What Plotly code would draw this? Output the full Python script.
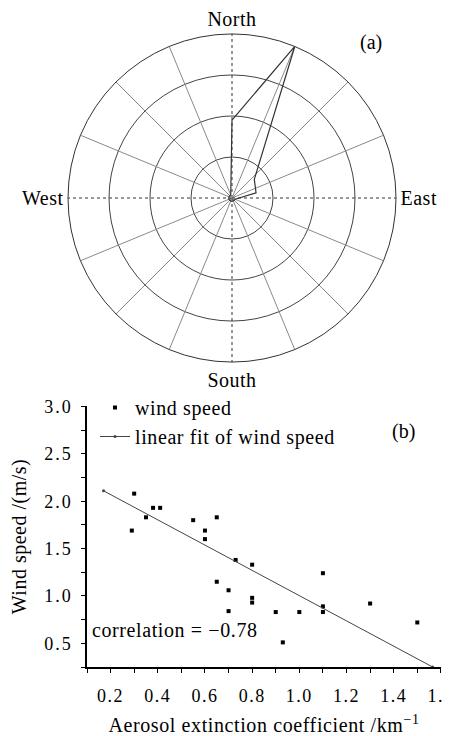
import plotly.graph_objects as go

# ---------------- data ----------------
# (a) wind direction rose: direction (deg from North, clockwise) and radius
wind_dir = [0, 22.5, 50, 78, 112.5, 135, 157.5, 180, 202.5, 225, 247.5, 270, 292.5, 315, 337.5, 0]
wind_r = [1.9, 4.0, 0.71, 0.6, 0.08, 0.08, 0.08, 0.08, 0.08, 0.08, 0.08, 0.08, 0.08, 0.08, 0.08, 1.9]
compass_labels = ["North", "East", "South", "West"]
compass_vals = [0, 90, 180, 270]

# (b) wind speed vs aerosol extinction coefficient
aec = [0.30, 0.29, 0.35, 0.38, 0.41, 0.55, 0.60, 0.60, 0.65, 0.65, 0.70, 0.70,
       0.73, 0.80, 0.80, 0.80, 0.90, 0.93, 1.00, 1.10, 1.10, 1.10, 1.30, 1.50]
ws = [2.08, 1.69, 1.83, 1.93, 1.93, 1.80, 1.69, 1.60, 1.83, 1.15, 1.06, 0.84,
      1.38, 1.33, 0.98, 0.93, 0.83, 0.51, 0.83, 1.24, 0.89, 0.83, 0.92, 0.72]
fit_x = [0.17, 1.565]
fit_y = [2.11, 0.25]
x_ticks = [0.2, 0.4, 0.6, 0.8, 1.0, 1.2, 1.4, 1.6]
y_ticks = [0.5, 1.0, 1.5, 2.0, 2.5, 3.0]

# the page body adds an 8px margin, so the figure is drawn 8px in from the window edge
OFF = 8
W, H = 452 - OFF, 736 - OFF
FONT = "Liberation Serif, Times New Roman, serif"


def fx(X):
    return (X - OFF) / W


def fy(Y):
    return 1 - (Y - OFF) / H


def spaced(t, px):
    return f'<span style="letter-spacing:{px}px">{t}</span>'


fig = go.Figure()

# polar grid spokes (every 22.5 deg); cardinal ones dotted
spoke_angles = [i * 22.5 for i in range(16)]
for a in spoke_angles:
    cardinal = (a % 90 == 0)
    fig.add_trace(go.Scatterpolar(
        r=[0, 4], theta=[a, a], mode="lines", showlegend=False, hoverinfo="skip",
        line=dict(color="#333333" if cardinal else "#8a8a8a", width=1,
                  dash="dot" if cardinal else "solid"),
        subplot="polar"))

fig.add_trace(go.Scatterpolar(
    r=wind_r, theta=wind_dir, mode="lines", showlegend=False,
    line=dict(color="#333333", width=1.2), subplot="polar"))

# scatter panel
fig.add_trace(go.Scatter(
    x=aec, y=ws, mode="markers", name=spaced("wind speed", 0.6),
    marker=dict(symbol="square", size=4, color="black")))
fig.add_trace(go.Scatter(
    x=fit_x, y=fit_y, mode="lines+markers", name=spaced("linear fit of wind speed", 0.6),
    line=dict(color="#444444", width=1),
    marker=dict(symbol="circle", size=3, color="#444444")))

R = 164
CX, CY = 232, 198
fig.update_layout(
    template="none",
    width=W, height=H,
    margin=dict(l=0, r=0, t=0, b=0),
    paper_bgcolor="white", plot_bgcolor="white",
    font=dict(family=FONT, color="black", size=19),
    showlegend=True,
    polar=dict(
        domain=dict(x=[fx(CX - R), fx(CX + R)], y=[fy(CY + R), fy(CY - R)]),
        bgcolor="white",
        angularaxis=dict(rotation=90, direction="clockwise",
                         tickmode="array", tickvals=compass_vals,
                         ticktext=[spaced(t, 0.5) for t in compass_labels],
                         ticks="", showgrid=False, showline=True,
                         linecolor="#333333", linewidth=1,
                         tickfont=dict(family=FONT, size=20, color="black")),
        radialaxis=dict(range=[0, 4], dtick=1, showticklabels=False, ticks="",
                        showline=False, gridcolor="#444444", gridwidth=1),
    ),
    xaxis=dict(domain=[fx(87), fx(441)], range=[0.1, 1.6005], anchor="y", automargin=False,
               tickmode="array", tickvals=x_ticks,
               ticktext=[spaced(f"{v:.1f}", 1.5) for v in x_ticks],
               ticklabeloverflow="allow",
               ticks="outside", ticklen=4, tickwidth=1.2, tickcolor="black",
               ticklabelstandoff=8,
               minor=dict(dtick=0.1, tick0=0.1, ticks="outside", ticklen=4, tickcolor="black",
                          showgrid=False),
               showline=True, linecolor="black", linewidth=1.5, showgrid=False, zeroline=False,
               tickfont=dict(size=18),
               title=dict(text=spaced("Aerosol extinction coefficient /km<sup>−1</sup>", 0.6),
                          font=dict(size=20), standoff=24)),
    yaxis=dict(domain=[fy(667), fy(406)], range=[0.25, 3.005], anchor="x",
               automargin=False,
               tickmode="array", tickvals=y_ticks,
               ticktext=[spaced(f"{v:.1f}", 2) for v in y_ticks],
               ticklabeloverflow="allow",
               ticks="outside", ticklen=4, tickwidth=1.2, tickcolor="black",
               ticklabelstandoff=5,
               minor=dict(dtick=0.25, tick0=0, ticks="outside", ticklen=4, tickcolor="black",
                          showgrid=False),
               showline=True, linecolor="black", linewidth=1.5, showgrid=False, zeroline=False,
               tickfont=dict(size=18),
               title=dict(text=spaced("Wind speed /(m/s)", 0.5), font=dict(size=20), standoff=18)),
    legend=dict(x=fx(95), y=fy(388), xanchor="left", yanchor="top",
                bgcolor="rgba(0,0,0,0)", font=dict(size=20), tracegroupgap=0),
    annotations=[
        dict(text="(a)", x=fx(371), y=fy(42), xref="paper", yref="paper",
             xanchor="center", yanchor="middle", showarrow=False, font=dict(size=20)),
        dict(text="(b)", x=fx(403), y=fy(431), xref="paper", yref="paper",
             xanchor="center", yanchor="middle", showarrow=False, font=dict(size=20)),
        dict(text=spaced("correlation = −0.78", 0.6), x=fx(90), y=fy(630),
             xref="paper", yref="paper",
             xanchor="left", yanchor="middle", showarrow=False, font=dict(size=20)),
    ],
)

fig.write_html("out.html")
